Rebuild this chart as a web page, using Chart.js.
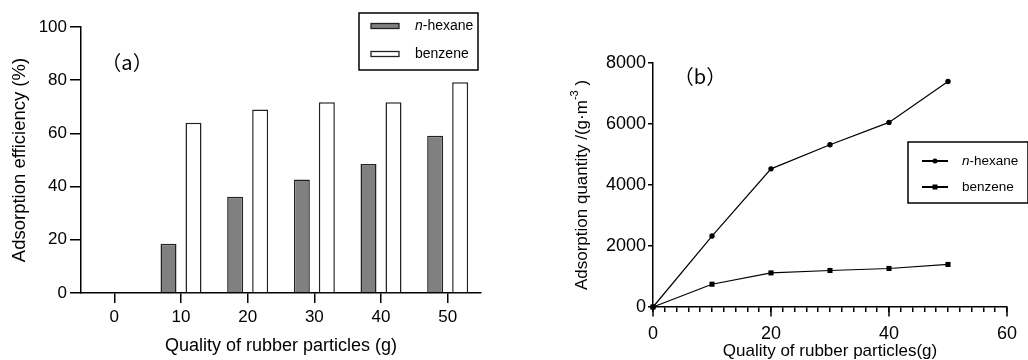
<!DOCTYPE html>
<html>
<head>
<meta charset="utf-8">
<script src="https://cdn.jsdelivr.net/npm/chart.js@4.4.1/dist/chart.umd.min.js"></script>
<style>
  html, body { margin: 0; padding: 0; background: #fff; }
  #wrap { position: relative; width: 1028px; height: 360px; overflow: hidden; }
  #chartA { position: absolute; left: 0; top: 0; }
  #chartB { position: absolute; left: 520px; top: 0; }
</style>
</head>
<body>
<div id="wrap">
  <canvas id="chartA" width="520" height="360"></canvas>
  <canvas id="chartB" width="508" height="360"></canvas>
</div>
<script>
// --- 1. DATA ---
// (a) adsorption efficiency, %
const massLabels = ['0', '10', '20', '30', '40', '50'];
const hexaneEff = [0, 18.5, 36.2, 42.7, 48.5, 59.1];
const benzeneEff = [0, 64.0, 69.0, 71.7, 71.7, 79.2];
const effTicks = [0, 20, 40, 60, 80, 100];

// (b) adsorption quantity, g/m3
const massB = [0, 10, 20, 30, 40, 50];
const hexaneQty = [0, 2326, 4530, 5319, 6053, 7391];
const benzeneQty = [0, 747, 1118, 1197, 1263, 1395];
const qtyTicks = [0, 2000, 4000, 6000, 8000];
const massMajor = [0, 20, 40, 60];

const FONT = '"Liberation Sans", Arial, sans-serif';
Chart.defaults.font.family = FONT;
Chart.defaults.color = '#000';

const axisGrid = len => ({
    display: true,
    drawOnChartArea: false,
    drawTicks: true,
    tickLength: len,
    color: '#000',
    lineWidth: 1.5,
    offset: false
});
const axisBorder = { display: true, color: '#000', width: 1.5 };


// --- 2. SMALL PLUGINS ---
// boxed legend drawn from the dataset styles
const boxLegend = {
    id: 'boxLegend',
    afterDraw(chart, args, o) {
        const ctx = chart.ctx;
        ctx.save();
        ctx.lineWidth = 1.5;
        ctx.strokeStyle = '#000';
        ctx.strokeRect(o.x, o.y, o.w, o.h);
        ctx.textBaseline = 'middle';
        chart.data.datasets.forEach((ds, i) => {
            const y = o.rowY[i];
            if (chart.config.type === 'bar') {
                ctx.fillStyle = ds.backgroundColor;
                ctx.fillRect(o.swX, y - 2.5, o.swW, 5);
                ctx.lineWidth = 1.3;
                ctx.strokeStyle = ds.borderColor;
                ctx.strokeRect(o.swX, y - 2.5, o.swW, 5);
            } else {
                ctx.lineWidth = 2;
                ctx.strokeStyle = ds.borderColor;
                ctx.beginPath();
                ctx.moveTo(o.swX, y);
                ctx.lineTo(o.swX + o.swW, y);
                ctx.stroke();
                const cx = o.swX + o.swW / 2;
                ctx.fillStyle = ds.backgroundColor;
                if (ds.pointStyle === 'rect') {
                    ctx.fillRect(cx - 2.5, y - 2.5, 5, 5);
                } else {
                    ctx.beginPath();
                    ctx.arc(cx, y, 2.5, 0, Math.PI * 2);
                    ctx.fill();
                }
            }
            // species name, with an italic "n" prefix
            ctx.fillStyle = '#000';
            let x = o.textX;
            let rest = ds.label;
            if (rest.startsWith('n-')) {
                ctx.font = 'italic ' + o.size + 'px ' + FONT;
                ctx.fillText('n', x, y);
                x += ctx.measureText('n').width;
                rest = rest.slice(1);
            }
            ctx.font = o.size + 'px ' + FONT;
            ctx.fillText(rest, x, y);
        });
        ctx.restore();
    }
};

// panel letter
const panelTag = {
    id: 'panelTag',
    afterDraw(chart, args, o) {
        const ctx = chart.ctx;
        ctx.save();
        ctx.font = o.size + 'px "Noto Sans CJK SC", sans-serif';
        ctx.fillStyle = '#000';
        ctx.textAlign = 'center';
        ctx.textBaseline = 'middle';
        ctx.fillText(o.text, o.x, o.y);
        ctx.restore();
    }
};

// y title with a superscript unit
const supTitle = {
    id: 'supTitle',
    afterDraw(chart, args, o) {
        const ctx = chart.ctx;
        const ys = chart.scales.y;
        const f = px => px + 'px ' + FONT;
        const supSize = Math.round(o.size * 0.65);
        ctx.save();
        ctx.translate(o.x, (ys.top + ys.bottom) / 2);
        ctx.rotate(-Math.PI / 2);
        ctx.fillStyle = '#000';
        ctx.textBaseline = 'alphabetic';
        ctx.font = f(o.size);
        const w1 = ctx.measureText(o.main).width;
        const w3 = ctx.measureText(o.tail).width;
        ctx.font = f(supSize);
        const w2 = ctx.measureText(o.sup).width;
        let x = -(w1 + w2 + w3) / 2;
        ctx.font = f(o.size);
        ctx.fillText(o.main, x, 0);
        x += w1;
        ctx.font = f(supSize);
        ctx.fillText(o.sup, x, -o.size * 0.5);
        x += w2;
        ctx.font = f(o.size);
        ctx.fillText(o.tail, x, 0);
        ctx.restore();
    }
};

// longer ticks at the labelled x values
const majorTicks = {
    id: 'majorTicks',
    afterDraw(chart, args, o) {
        const ctx = chart.ctx;
        const xs = chart.scales.x;
        ctx.save();
        ctx.strokeStyle = '#000';
        ctx.lineWidth = 1.5;
        o.values.forEach(v => {
            const px = xs.getPixelForValue(v);
            ctx.beginPath();
            ctx.moveTo(px, xs.top);
            ctx.lineTo(px, xs.top + o.length);
            ctx.stroke();
        });
        ctx.restore();
    }
};


// --- 3. (a) BAR CHART ---
new Chart(document.getElementById('chartA'), {
    type: 'bar',
    data: {
        labels: massLabels,
        datasets: [
            {
                label: 'n-hexane',
                data: hexaneEff,
                backgroundColor: '#808080',
                borderColor: '#222',
                borderWidth: 1.5,
                categoryPercentage: 0.75,
                barPercentage: 0.64
            },
            {
                label: 'benzene',
                data: benzeneEff,
                backgroundColor: '#fff',
                borderColor: '#222',
                borderWidth: 1.5,
                categoryPercentage: 0.75,
                barPercentage: 0.64
            }
        ]
    },
    options: {
        responsive: false,
        animation: false,
        layout: { padding: { left: 0, top: 27, right: 39, bottom: 0 } },
        plugins: {
            legend: { display: false },
            tooltip: { enabled: false },
            boxLegend: { x: 359, y: 13, w: 119, h: 57, rowY: [26, 54], swX: 371, swW: 28, textX: 415, size: 14 },
            panelTag: { text: '（a）', x: 127, y: 62, size: 20 }
        },
        scales: {
            x: {
                grid: axisGrid(10),
                border: axisBorder,
                ticks: { font: { size: 17 }, padding: 4, maxRotation: 0 },
                title: { display: true, text: 'Quality of rubber particles (g)', font: { size: 18 }, padding: { top: 0, bottom: 3 } },
                afterFit: s => { s.height = 67; }
            },
            y: {
                min: 0,
                max: 100,
                afterBuildTicks: s => { s.ticks = effTicks.map(v => ({ value: v })); },
                grid: axisGrid(11),
                border: axisBorder,
                ticks: { font: { size: 17 }, padding: 3, callback: v => String(v) },
                title: { display: true, text: 'Adsorption efficiency (%)', font: { size: 18.5 }, padding: { top: 9, bottom: 0 } },
                afterFit: s => { s.width = 81; }
            }
        }
    },
    plugins: [boxLegend, panelTag]
});


// --- 4. (b) LINE CHART ---
const toPoints = vals => massB.map((m, i) => ({ x: m, y: vals[i] }));

new Chart(document.getElementById('chartB'), {
    type: 'line',
    data: {
        datasets: [
            {
                label: 'n-hexane',
                data: toPoints(hexaneQty),
                borderColor: '#000',
                backgroundColor: '#000',
                borderWidth: 1.2,
                pointStyle: 'circle',
                pointRadius: 2.7,
                pointBorderWidth: 0,
                tension: 0,
                clip: false
            },
            {
                label: 'benzene',
                data: toPoints(benzeneQty),
                borderColor: '#000',
                backgroundColor: '#000',
                borderWidth: 1.2,
                pointStyle: 'rect',
                pointRadius: 3.6,
                pointBorderWidth: 0,
                tension: 0,
                clip: false
            }
        ]
    },
    options: {
        responsive: false,
        animation: false,
        layout: { padding: { left: 0, top: 63, right: 9, bottom: 0 } },
        plugins: {
            legend: { display: false },
            tooltip: { enabled: false },
            boxLegend: { x: 388, y: 142, w: 120, h: 61, rowY: [161, 187], swX: 402, swW: 26, textX: 442, size: 13.5 },
            panelTag: { text: '（b）', x: 180, y: 76, size: 20 },
            supTitle: { x: 66.5, size: 17, main: 'Adsorption quantity /(g·m', sup: '-3', tail: ' )' },
            majorTicks: { values: massMajor, length: 9.5 }
        },
        scales: {
            x: {
                type: 'linear',
                min: 0,
                max: 60,
                grid: axisGrid(5),
                border: axisBorder,
                ticks: {
                    stepSize: 2,
                    autoSkip: false,
                    maxRotation: 0,
                    padding: 11,
                    font: { size: 18 },
                    callback: v => massMajor.includes(v) ? String(v) : ''
                },
                title: { display: true, text: 'Quality of rubber particles(g)', font: { size: 17, lineHeight: 1 }, padding: 0 },
                afterFit: s => { s.height = 53; }
            },
            y: {
                min: 0,
                max: 8000,
                afterBuildTicks: s => { s.ticks = qtyTicks.map(v => ({ value: v })); },
                grid: axisGrid(5),
                border: axisBorder,
                ticks: { font: { size: 18 }, padding: 2, callback: v => String(v) },
                afterFit: s => { s.width = 133; }
            }
        }
    },
    plugins: [boxLegend, panelTag, supTitle, majorTicks]
});
</script>
</body>
</html>
